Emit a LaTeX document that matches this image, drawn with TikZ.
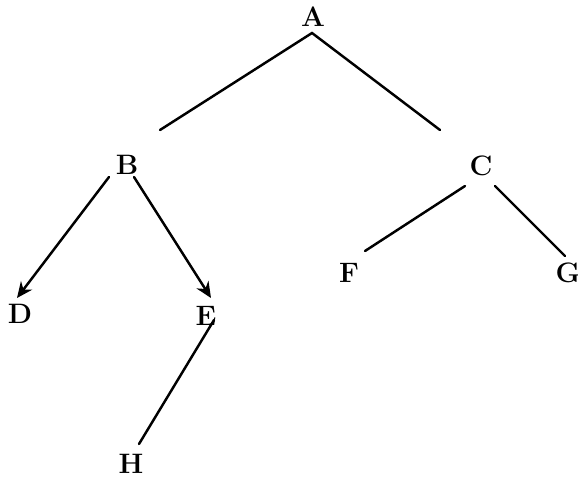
\documentclass[tikz,border=0pt]{standalone}
\usetikzlibrary{arrows.meta}
\begin{document}
\begin{tikzpicture}[x=0.02cm,y=-0.02cm,
  lbl/.style={font=\fontsize{16}{18}\selectfont\bfseries, inner sep=0pt},
  edge/.style={line width=1.4pt, line cap=round},
  arr/.style={edge, -{Stealth[length=9pt,width=8pt]}}]
\useasboundingbox (0,0) rectangle (578,477);
\node[lbl] (A) at (313,17) {A};
\node[lbl] (B) at (127,165) {B};
\node[lbl] (C) at (481,166) {C};
\node[lbl] (D) at (20,314) {D};
\node[lbl] (E) at (206,316) {E};
\node[lbl] (F) at (349,273) {F};
\node[lbl] (G) at (568,273) {G};
\node[lbl] (H) at (131,464) {H};
\coordinate (a) at (312,33);
\coordinate (ab) at (160,130);
\coordinate (ac) at (440,130);
\draw[edge] (ab) -- (a) -- (ac);
\coordinate (bd) at (109,177);
\coordinate (be) at (134,177);
\coordinate (dt) at (17,298);
\coordinate (et) at (211,298);
\draw[arr] (bd) -- (dt);
\draw[arr] (be) -- (et);
\coordinate (c1) at (465,186);
\coordinate (f1) at (365,251);
\coordinate (c2) at (495,186);
\coordinate (g1) at (565,256);
\draw[edge] (c1) -- (f1);
\draw[edge] (c2) -- (g1);
\coordinate (e1) at (214,320);
\coordinate (h1) at (139,444);
\draw[edge] (e1) -- (h1);
\end{tikzpicture}
\end{document}
